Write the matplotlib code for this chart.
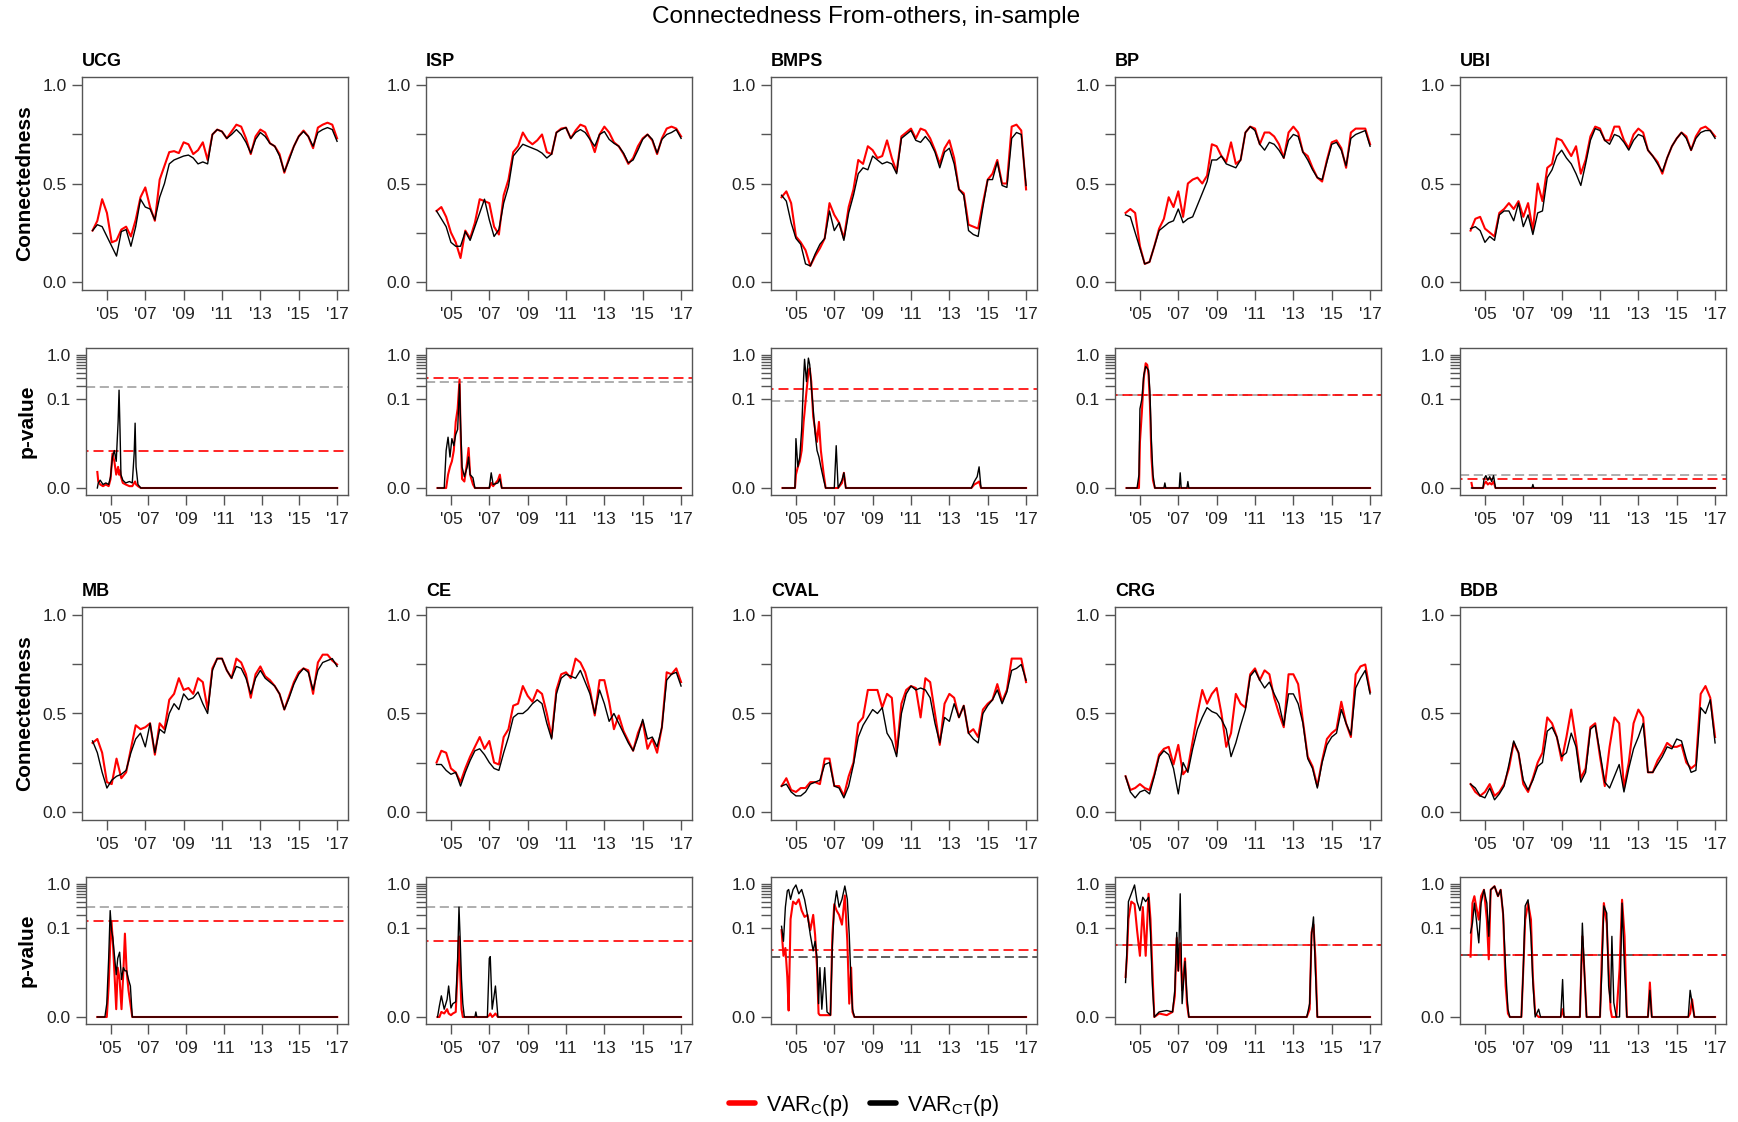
import numpy as np
import matplotlib
matplotlib.use("Agg")
import matplotlib.pyplot as plt
from matplotlib.lines import Line2D

plt.rcParams['font.family'] = ['Liberation Sans', 'DejaVu Sans']
plt.rcParams['mathtext.fontset'] = 'custom'
plt.rcParams['mathtext.rm'] = 'Liberation Sans'

# ---------------------------------------------------------------------------
# Data
# ---------------------------------------------------------------------------
banks = ["UCG", "ISP", "BMPS", "BP", "UBI", "MB", "CE", "CVAL", "CRG", "BDB"]

# quarterly observation dates (decimal years) for the connectedness series
dates = np.arange(2004.25, 2017.001, 0.25)

year_ticks = [2005, 2007, 2009, 2011, 2013, 2015, 2017]
year_labels = ["'05", "'07", "'09", "'11", "'13", "'15", "'17"]

# connectedness from others: VAR_C(p) and VAR_CT(p)
ucg_conn_c = [0.26,0.31,0.42,0.35,0.20,0.21,0.265,0.28,0.23,0.315,0.43,0.48,0.38,0.31,0.52,0.59,0.66,0.665,0.655,0.71,0.70,0.65,0.67,0.71,0.62,0.75,0.775,0.765,0.73,0.765,0.80,0.79,0.73,0.65,0.74,0.775,0.76,0.705,0.69,0.65,0.555,0.63,0.69,0.74,0.77,0.74,0.68,0.785,0.80,0.81,0.80,0.73]
ucg_conn_ct = [0.26,0.29,0.28,0.23,0.18,0.13,0.255,0.265,0.18,0.28,0.42,0.38,0.37,0.315,0.43,0.50,0.60,0.62,0.63,0.64,0.645,0.63,0.60,0.61,0.60,0.75,0.775,0.765,0.73,0.75,0.775,0.75,0.71,0.655,0.725,0.76,0.74,0.705,0.69,0.64,0.56,0.62,0.69,0.74,0.765,0.74,0.69,0.76,0.775,0.785,0.775,0.715]

isp_conn_c = [0.36,0.38,0.33,0.25,0.20,0.12,0.26,0.22,0.30,0.42,0.41,0.40,0.28,0.24,0.44,0.52,0.66,0.69,0.76,0.72,0.70,0.72,0.75,0.66,0.65,0.76,0.78,0.785,0.73,0.77,0.80,0.79,0.73,0.66,0.75,0.79,0.76,0.71,0.69,0.65,0.60,0.63,0.69,0.73,0.75,0.72,0.65,0.73,0.78,0.79,0.78,0.74]
isp_conn_ct = [0.36,0.32,0.28,0.20,0.18,0.18,0.255,0.21,0.28,0.35,0.42,0.315,0.23,0.265,0.40,0.485,0.64,0.67,0.70,0.69,0.68,0.67,0.655,0.63,0.65,0.76,0.775,0.785,0.73,0.76,0.775,0.76,0.725,0.69,0.75,0.765,0.725,0.705,0.69,0.655,0.605,0.62,0.67,0.725,0.75,0.725,0.655,0.725,0.75,0.76,0.775,0.73]

bmps_conn_c = [0.43,0.46,0.40,0.23,0.20,0.16,0.08,0.13,0.17,0.22,0.40,0.34,0.30,0.22,0.38,0.47,0.62,0.60,0.69,0.67,0.63,0.64,0.72,0.63,0.56,0.74,0.76,0.78,0.73,0.78,0.77,0.73,0.67,0.60,0.68,0.72,0.63,0.47,0.45,0.29,0.28,0.27,0.40,0.52,0.55,0.62,0.50,0.50,0.79,0.80,0.77,0.47]
bmps_conn_ct = [0.44,0.41,0.30,0.22,0.19,0.09,0.08,0.14,0.19,0.22,0.36,0.26,0.30,0.21,0.35,0.44,0.55,0.58,0.57,0.64,0.62,0.60,0.61,0.60,0.55,0.73,0.75,0.77,0.72,0.71,0.74,0.71,0.66,0.58,0.66,0.68,0.60,0.47,0.44,0.26,0.24,0.23,0.38,0.52,0.52,0.61,0.49,0.48,0.73,0.76,0.75,0.49]

bp_conn_c = [0.35,0.37,0.35,0.18,0.09,0.10,0.18,0.27,0.32,0.43,0.38,0.46,0.33,0.50,0.52,0.53,0.50,0.54,0.70,0.69,0.64,0.61,0.71,0.60,0.62,0.76,0.79,0.78,0.70,0.76,0.76,0.74,0.70,0.63,0.76,0.79,0.76,0.66,0.64,0.58,0.53,0.51,0.62,0.71,0.72,0.68,0.58,0.76,0.78,0.78,0.78,0.70]
bp_conn_ct = [0.34,0.33,0.25,0.17,0.09,0.10,0.18,0.26,0.28,0.30,0.31,0.37,0.30,0.32,0.33,0.39,0.45,0.51,0.62,0.62,0.64,0.60,0.59,0.58,0.62,0.76,0.79,0.77,0.70,0.67,0.71,0.70,0.67,0.63,0.72,0.75,0.74,0.66,0.62,0.57,0.53,0.52,0.61,0.70,0.71,0.67,0.59,0.73,0.75,0.76,0.77,0.69]

ubi_conn_c = [0.26,0.32,0.33,0.27,0.25,0.23,0.35,0.37,0.40,0.37,0.41,0.33,0.40,0.26,0.50,0.41,0.58,0.60,0.73,0.72,0.68,0.64,0.69,0.55,0.62,0.74,0.79,0.78,0.72,0.72,0.79,0.79,0.72,0.68,0.75,0.78,0.76,0.67,0.64,0.61,0.55,0.63,0.69,0.73,0.76,0.74,0.67,0.74,0.78,0.79,0.77,0.74]
ubi_conn_ct = [0.27,0.28,0.26,0.20,0.23,0.21,0.34,0.36,0.36,0.31,0.40,0.28,0.34,0.24,0.35,0.36,0.53,0.57,0.64,0.67,0.63,0.60,0.55,0.49,0.60,0.72,0.78,0.77,0.72,0.70,0.75,0.74,0.71,0.67,0.72,0.75,0.74,0.67,0.64,0.60,0.56,0.63,0.69,0.73,0.76,0.73,0.67,0.73,0.76,0.77,0.77,0.73]

mb_conn_c = [0.35,0.37,0.30,0.15,0.14,0.27,0.17,0.20,0.32,0.44,0.42,0.43,0.45,0.29,0.45,0.42,0.57,0.60,0.68,0.62,0.63,0.60,0.68,0.66,0.52,0.73,0.78,0.78,0.72,0.68,0.78,0.76,0.70,0.58,0.70,0.74,0.69,0.67,0.64,0.60,0.52,0.59,0.66,0.71,0.73,0.72,0.60,0.76,0.80,0.80,0.77,0.75]
mb_conn_ct = [0.36,0.30,0.20,0.12,0.16,0.18,0.19,0.21,0.30,0.37,0.40,0.33,0.45,0.30,0.42,0.40,0.50,0.55,0.52,0.60,0.57,0.58,0.61,0.55,0.50,0.72,0.78,0.78,0.72,0.68,0.74,0.73,0.68,0.60,0.68,0.72,0.68,0.66,0.64,0.60,0.52,0.58,0.65,0.70,0.73,0.71,0.62,0.72,0.76,0.77,0.78,0.74]

ce_conn_c = [0.25,0.31,0.30,0.22,0.20,0.15,0.22,0.28,0.33,0.38,0.32,0.36,0.25,0.24,0.38,0.42,0.54,0.55,0.64,0.59,0.56,0.62,0.60,0.50,0.38,0.62,0.70,0.71,0.68,0.78,0.76,0.71,0.62,0.49,0.67,0.67,0.56,0.42,0.49,0.41,0.36,0.31,0.40,0.46,0.32,0.37,0.30,0.43,0.71,0.70,0.73,0.66]
ce_conn_ct = [0.24,0.24,0.21,0.19,0.20,0.13,0.20,0.26,0.31,0.32,0.29,0.25,0.22,0.21,0.30,0.38,0.48,0.50,0.50,0.52,0.55,0.57,0.55,0.45,0.37,0.60,0.68,0.70,0.69,0.68,0.72,0.66,0.60,0.50,0.62,0.55,0.46,0.50,0.45,0.40,0.35,0.31,0.38,0.47,0.37,0.38,0.33,0.43,0.67,0.70,0.71,0.64]

cval_conn_c = [0.13,0.17,0.11,0.10,0.12,0.12,0.15,0.15,0.14,0.27,0.27,0.13,0.13,0.08,0.18,0.25,0.45,0.48,0.62,0.62,0.62,0.53,0.60,0.58,0.30,0.55,0.62,0.64,0.63,0.48,0.68,0.66,0.50,0.34,0.55,0.60,0.58,0.48,0.54,0.40,0.42,0.38,0.52,0.55,0.57,0.65,0.56,0.62,0.78,0.78,0.78,0.66]
cval_conn_ct = [0.13,0.14,0.10,0.08,0.08,0.10,0.14,0.15,0.16,0.24,0.25,0.13,0.12,0.07,0.13,0.24,0.38,0.44,0.48,0.52,0.50,0.53,0.40,0.36,0.28,0.50,0.60,0.64,0.62,0.63,0.62,0.58,0.45,0.35,0.48,0.46,0.55,0.48,0.54,0.40,0.37,0.35,0.50,0.54,0.57,0.62,0.55,0.61,0.72,0.73,0.75,0.67]

crg_conn_c = [0.18,0.11,0.12,0.14,0.12,0.11,0.19,0.29,0.32,0.33,0.24,0.34,0.19,0.22,0.36,0.50,0.62,0.55,0.60,0.63,0.50,0.33,0.40,0.60,0.55,0.53,0.70,0.73,0.67,0.72,0.70,0.58,0.50,0.43,0.70,0.70,0.65,0.46,0.28,0.23,0.13,0.26,0.37,0.40,0.42,0.56,0.45,0.38,0.70,0.74,0.75,0.61]
crg_conn_ct = [0.18,0.10,0.07,0.10,0.11,0.09,0.18,0.28,0.31,0.29,0.22,0.09,0.25,0.20,0.32,0.42,0.48,0.53,0.51,0.50,0.47,0.42,0.28,0.35,0.44,0.52,0.69,0.72,0.67,0.63,0.66,0.60,0.55,0.44,0.60,0.60,0.55,0.45,0.27,0.22,0.12,0.25,0.34,0.38,0.40,0.52,0.45,0.39,0.63,0.68,0.72,0.60]

bdb_conn_c = [0.14,0.10,0.08,0.10,0.14,0.08,0.10,0.14,0.22,0.35,0.30,0.14,0.10,0.17,0.25,0.30,0.48,0.45,0.38,0.26,0.38,0.52,0.36,0.17,0.22,0.43,0.45,0.28,0.13,0.33,0.48,0.45,0.12,0.25,0.45,0.52,0.48,0.20,0.20,0.26,0.30,0.35,0.33,0.33,0.34,0.25,0.22,0.24,0.60,0.64,0.58,0.38]
bdb_conn_ct = [0.14,0.12,0.08,0.07,0.12,0.06,0.09,0.13,0.24,0.36,0.30,0.16,0.11,0.16,0.23,0.25,0.41,0.43,0.38,0.28,0.30,0.40,0.33,0.15,0.20,0.42,0.44,0.30,0.15,0.12,0.18,0.24,0.10,0.22,0.32,0.38,0.45,0.20,0.20,0.24,0.28,0.33,0.32,0.37,0.36,0.27,0.20,0.21,0.53,0.50,0.57,0.35]

# p-values of the connectedness test: dates, VAR_C(p), VAR_CT(p)
ucg_pv_t = [2004.30,2004.35,2004.45,2004.60,2004.75,2004.90,2005.00,2005.10,2005.20,2005.30,2005.40,2005.45,2005.50,2005.55,2005.65,2005.80,2006.00,2006.15,2006.25,2006.30,2006.35,2006.45,2006.60,2017.00]
ucg_pv_c = [0.0013,0.0004,0.0002,0.0001,0.0002,0.0001,0.0006,0.005,0.003,0.001,0.002,0.001,0.0015,0.0008,0.0003,0.0002,0.0001,0.0001,0.0003,0.0004,0.0002,0.0001,0.0,0.0]
ucg_pv_ct = [0.0,0.0003,0.0005,0.0002,0.0003,0.0002,0.0008,0.004,0.006,0.003,0.03,0.16,0.02,0.001,0.0005,0.0003,0.0004,0.0003,0.005,0.028,0.002,0.0002,0.0,0.0]

isp_pv_t = [2004.30,2004.65,2004.75,2004.85,2004.95,2005.05,2005.15,2005.25,2005.35,2005.45,2005.50,2005.58,2005.70,2005.85,2005.92,2006.00,2006.15,2006.25,2007.00,2007.10,2007.20,2007.45,2007.55,2007.65,2017.00]
isp_pv_c = [0,0,0,0.001,0.002,0.003,0.006,0.03,0.06,0.28,0.02,0.0006,0.0004,0.003,0.007,0.001,0.0002,0,0,0.0003,0.0001,0.0005,0.001,0,0]
isp_pv_ct = [0,0,0.006,0.013,0.004,0.012,0.008,0.015,0.02,0.22,0.03,0.002,0.0008,0.002,0.004,0.001,0.0007,0,0,0.0012,0.0002,0.0003,0.0006,0,0]

bmps_pv_t = [2004.30,2004.95,2005.00,2005.10,2005.20,2005.30,2005.40,2005.45,2005.55,2005.65,2005.72,2005.80,2005.90,2006.00,2006.10,2006.20,2006.30,2006.45,2006.55,2007.00,2007.10,2007.20,2007.40,2007.50,2007.60,2014.15,2014.30,2014.45,2014.55,2014.65,2017.00]
bmps_pv_c = [0,0,0.001,0.002,0.003,0.006,0.03,0.05,0.15,0.4,0.5,0.25,0.04,0.02,0.01,0.03,0.006,0.001,0,0,0,0,0.0003,0.0012,0,0,0.0002,0.0003,0.0004,0,0]
bmps_pv_ct = [0,0,0.012,0.002,0.004,0.02,0.3,0.8,0.25,0.85,0.6,0.2,0.06,0.016,0.006,0.004,0.002,0.0005,0,0,0.008,0,0.0005,0.0012,0,0,0.0004,0.0008,0.002,0,0]

bp_pv_t = [2004.30,2004.85,2004.95,2005.00,2005.10,2005.20,2005.30,2005.38,2005.45,2005.52,2005.60,2005.68,2005.78,2006.25,2006.30,2006.35,2007.05,2007.10,2007.15,2007.45,2007.50,2007.55,2017.00]
bp_pv_c = [0,0,0,0.01,0.05,0.3,0.65,0.6,0.35,0.08,0.004,0.0005,0,0,0,0,0,0,0,0,0,0,0]
bp_pv_ct = [0,0,0.001,0.06,0.1,0.35,0.55,0.5,0.45,0.15,0.01,0.001,0,0,0.0003,0,0,0.0012,0,0,0.0004,0,0]

ubi_pv_t = [2004.30,2004.35,2004.90,2004.95,2005.05,2005.15,2005.25,2005.35,2005.45,2005.55,2007.45,2007.50,2007.55,2017.00]
ubi_pv_c = [0.0003,0,0,0.0002,0.0004,0.0002,0.0003,0.0002,0.0004,0,0,0,0,0]
ubi_pv_ct = [0,0,0,0.0006,0.0009,0.0005,0.0008,0.0004,0.0009,0,0,0.0002,0,0]

mb_pv_t = [2004.30,2004.70,2004.80,2004.90,2004.98,2005.05,2005.12,2005.20,2005.30,2005.38,2005.48,2005.58,2005.68,2005.76,2005.85,2005.95,2006.05,2006.15,2017.00]
mb_pv_c = [0,0,0,0.004,0.04,0.14,0.05,0.01,0.0005,0.012,0.006,0.0005,0.01,0.075,0.01,0.003,0.001,0,0]
mb_pv_ct = [0,0,0.001,0.02,0.25,0.09,0.06,0.025,0.008,0.02,0.028,0.006,0.012,0.01,0.01,0.006,0.004,0,0]

ce_pv_t = [2004.30,2004.40,2004.50,2004.65,2004.80,2004.88,2005.00,2005.10,2005.25,2005.35,2005.42,2005.48,2005.55,2005.62,2005.70,2006.25,2006.30,2006.35,2006.90,2007.00,2007.05,2007.15,2007.25,2007.32,2007.45,2017.00]
ce_pv_c = [0,0,0.0003,0.0002,0.0005,0.0002,0.0001,0.0002,0.0003,0.01,0.065,0.01,0.0005,0,0,0,0,0,0,0.0001,0.0002,0,0.0001,0.0002,0,0]
ce_pv_ct = [0,0.0008,0.002,0.0005,0.0015,0.004,0.0006,0.001,0.0012,0.02,0.3,0.06,0.006,0.001,0,0,0.0003,0,0,0.02,0.022,0.0005,0.002,0.004,0,0]

cval_pv_t = [2004.25,2004.35,2004.45,2004.55,2004.62,2004.72,2004.85,2005.00,2005.15,2005.30,2005.45,2005.60,2005.75,2005.90,2006.00,2006.10,2006.18,2006.25,2006.35,2006.50,2006.62,2006.80,2006.90,2007.00,2007.12,2007.25,2007.40,2007.55,2007.68,2007.78,2007.88,2007.95,2008.05,2017.00]
cval_pv_c = [0.09,0.023,0.035,0.007,0.0004,0.16,0.4,0.35,0.45,0.25,0.18,0.2,0.09,0.2,0.07,0.012,0.0002,0.0001,0.0001,0.0001,0.0001,0.0001,0.07,0.35,0.25,0.2,0.12,0.55,0.05,0.001,0.012,0.0003,0,0]
cval_pv_ct = [0.11,0.05,0.3,0.7,0.75,0.45,0.75,0.95,0.6,0.75,0.45,0.2,0.07,0.03,0.05,0.02,0.001,0.012,0.0005,0.012,0.0003,0.0001,0.04,0.3,0.7,0.3,0.45,0.9,0.45,0.07,0.004,0.0005,0,0]

crg_pv_t = [2004.25,2004.32,2004.40,2004.55,2004.72,2004.85,2005.00,2005.15,2005.30,2005.45,2005.55,2005.65,2005.75,2006.00,2006.40,2006.70,2006.82,2006.92,2007.00,2007.10,2007.20,2007.35,2007.45,2007.55,2013.70,2013.85,2013.95,2014.05,2014.15,2014.25,2017.00]
crg_pv_c = [0.007,0.02,0.16,0.4,0.35,0.09,0.023,0.3,0.023,0.6,0.16,0.01,0,0.0002,0.0001,0.0003,0.002,0.06,0.01,0.045,0.003,0.02,0.001,0,0,0.0005,0.08,0.12,0.02,0,0]
crg_pv_ct = [0.005,0.03,0.4,0.6,0.95,0.4,0.25,0.5,0.4,0.5,0.08,0.004,0,0.0003,0.0004,0.0003,0.003,0.08,0.01,0.6,0.001,0.017,0.002,0,0,0.001,0.07,0.18,0.01,0,0]

bdb_pv_t = [2004.25,2004.35,2004.45,2004.55,2004.68,2004.80,2004.95,2005.10,2005.20,2005.30,2005.50,2005.68,2005.82,2005.95,2006.08,2006.20,2006.30,2006.90,2007.00,2007.10,2007.25,2007.40,2007.50,2007.62,2007.80,2007.90,2008.95,2009.05,2009.12,2009.95,2010.08,2010.18,2010.30,2011.00,2011.10,2011.20,2011.35,2011.45,2011.55,2011.62,2011.72,2011.85,2012.02,2012.15,2012.28,2012.40,2013.50,2013.60,2013.70,2015.60,2015.70,2015.80,2015.92,2017.00]
bdb_pv_c = [0.022,0.37,0.53,0.3,0.156,0.53,0.74,0.156,0.019,0.74,0.89,0.53,0.74,0.2,0.004,0.0002,0,0,0.011,0.156,0.37,0.156,0.007,0.0002,0,0,0,0.0005,0,0,0.065,0.011,0,0,0.027,0.37,0.13,0.011,0.0005,0,0,0,0.011,0.44,0.065,0,0,0.005,0,0,0.0002,0.0015,0,0]
bdb_pv_ct = [0.078,0.13,0.37,0.16,0.046,0.37,0.74,0.37,0.065,0.74,0.89,0.53,0.74,0.22,0.011,0.0005,0,0,0.011,0.32,0.44,0.065,0.005,0,0.0005,0,0,0.006,0,0,0.13,0.011,0,0,0.011,0.32,0.22,0.004,0.0011,0.065,0.0011,0,0,0.37,0.011,0,0,0.003,0,0,0.003,0.0011,0,0]

# critical values of the test (dashed lines)
crit_c = [0.0057, 0.30, 0.17, 0.125, 0.0006, 0.143, 0.05, 0.032, 0.042, 0.024]
crit_ct = [0.19, 0.24, 0.093, 0.125, 0.001, 0.30, 0.30, 0.022, 0.042, 0.024]
crit_ct_color = ["#999999", "#999999", "#999999", "#999999", "#999999",
                 "#999999", "#999999", "#333333", "#999999", "#333333"]

conn_c = [ucg_conn_c, isp_conn_c, bmps_conn_c, bp_conn_c, ubi_conn_c,
          mb_conn_c, ce_conn_c, cval_conn_c, crg_conn_c, bdb_conn_c]
conn_ct = [ucg_conn_ct, isp_conn_ct, bmps_conn_ct, bp_conn_ct, ubi_conn_ct,
           mb_conn_ct, ce_conn_ct, cval_conn_ct, crg_conn_ct, bdb_conn_ct]
pv_t = [ucg_pv_t, isp_pv_t, bmps_pv_t, bp_pv_t, ubi_pv_t,
        mb_pv_t, ce_pv_t, cval_pv_t, crg_pv_t, bdb_pv_t]
pv_c = [ucg_pv_c, isp_pv_c, bmps_pv_c, bp_pv_c, ubi_pv_c,
        mb_pv_c, ce_pv_c, cval_pv_c, crg_pv_c, bdb_pv_c]
pv_ct = [ucg_pv_ct, isp_pv_ct, bmps_pv_ct, bp_pv_ct, ubi_pv_ct,
         mb_pv_ct, ce_pv_ct, cval_pv_ct, crg_pv_ct, bdb_pv_ct]

# ---------------------------------------------------------------------------
# Figure
# ---------------------------------------------------------------------------
W, H = 1738, 1122
fig = plt.figure(figsize=(W / 100, H / 100), dpi=100)

RED = "#FF0000"
FRAME = "#555555"
FS = 12.5

col_left = [82, 426, 771, 1115, 1460]
col_w = 266
conn_rows = [(77, 290), (607, 820)]
pv_rows = [(348, 495), (877, 1024)]
XLIM = (2003.70, 2017.57)
OFFSET = 0.001


def pfwd(p):
    return np.log10(np.clip(np.asarray(p, dtype=float) + OFFSET, 1e-9, None))


def pinv(f):
    return 10.0 ** np.asarray(f, dtype=float) - OFFSET


def axes_px(left, top, right, bottom):
    return fig.add_axes([left / W, 1 - bottom / H, (right - left) / W, (bottom - top) / H])


def style(ax):
    for s in ax.spines.values():
        s.set_color(FRAME)
        s.set_linewidth(1.0)
    ax.tick_params(direction="out", length=7.5, width=1.0, color=FRAME,
                   labelsize=FS, labelcolor="#222222")
    ax.tick_params(axis="y", pad=3.5)
    ax.tick_params(axis="x", pad=5)
    ax.set_xlim(*XLIM)
    ax.set_xticks(year_ticks)
    ax.set_xticklabels(year_labels)


for i, name in enumerate(banks):
    r, c = divmod(i, 5)
    left = col_left[c]
    right = left + col_w

    # connectedness panel
    top, bot = conn_rows[r]
    ax = axes_px(left, top, right, bot)
    ax.plot(dates, conn_c[i], color=RED, lw=1.5)
    ax.plot(dates, conn_ct[i], color="black", lw=1.0)
    ax.set_ylim(-0.043, 1.043)
    ax.set_yticks([0, 0.25, 0.5, 0.75, 1.0])
    ax.set_yticklabels(["0.0", "", "0.5", "", "1.0"])
    style(ax)
    ax.text(0, 1 + 11 / (bot - top), name, transform=ax.transAxes,
            ha="left", va="baseline", fontsize=13, fontweight="bold")
    if c == 0:
        fig.text(25 / W, 1 - (top + bot) / 2 / H, "Connectedness", rotation=90,
                 ha="center", va="center", fontsize=15, fontweight="bold")

    # p-value panel
    ptop, pbot = pv_rows[r]
    pleft = left + 4 if c == 0 else left
    axp = axes_px(pleft, ptop, right, pbot)
    axp.set_yscale("function", functions=(pfwd, pinv))
    axp.axhline(crit_ct[i], color=crit_ct_color[i], lw=1.1, ls=(0, (6, 3)))
    axp.axhline(crit_c[i], color=RED, lw=1.2, ls=(4.5, (6, 3)))
    axp.plot(pv_t[i], pv_c[i], color=RED, lw=1.5)
    axp.plot(pv_t[i], pv_ct[i], color="black", lw=1.0)
    axp.set_ylim(pinv(-3.158), pinv(0.158))
    pticks = [0.0, 0.1, 0.2, 0.3, 0.4, 0.5, 0.6, 0.7, 0.8, 0.9, 1.0]
    axp.set_yticks(pticks)
    axp.set_yticklabels(["0.0", "0.1"] + [""] * 8 + ["1.0"])
    axp.minorticks_off()
    style(axp)
    if c == 0:
        fig.text(27 / W, 1 - (ptop + pbot) / 2 / H, "p-value", rotation=90,
                 ha="center", va="center", fontsize=15, fontweight="bold")

fig.text(866 / W, 1 - 17 / H, "Connectedness From-others, in-sample",
         ha="center", va="center", fontsize=17.6)

handles = [Line2D([], [], color=RED, lw=4, solid_capstyle="round"),
           Line2D([], [], color="black", lw=4, solid_capstyle="round")]
labels = [r"VAR$_{\mathregular{C}}$(p)", r"VAR$_{\mathregular{CT}}$(p)"]
fig.legend(handles, labels, loc="center", bbox_to_anchor=(864 / W, 1 - 1105 / H),
           ncol=2, frameon=False, fontsize=15.5, handlelength=1.2,
           handletextpad=0.5, columnspacing=1.0)

fig.savefig("out.png", dpi=100)
